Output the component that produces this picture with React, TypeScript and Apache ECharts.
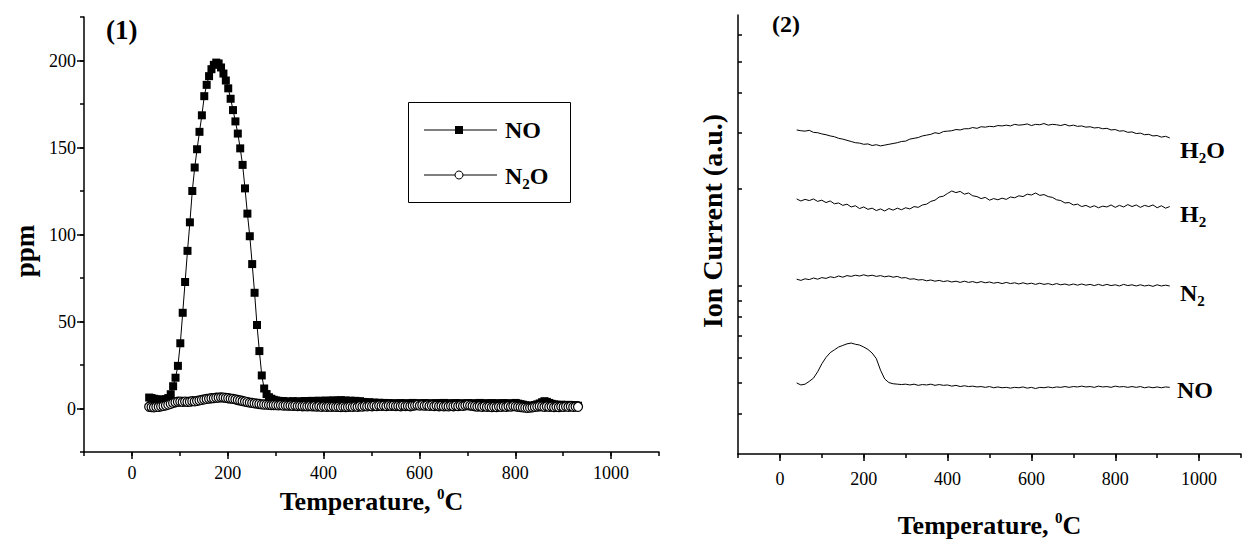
import React, { useEffect, useRef } from 'react';
import * as echarts from 'echarts';

const SERIF = "Liberation Serif";

// ---------- Panel (1): TPD in ppm ----------
const LEFT_TEMP = [
  36, 41, 46, 51, 56, 61, 66, 71, 76, 81,
  86, 91, 96, 101, 106, 111, 116, 121, 126, 131,
  136, 141, 146, 151, 156, 161, 166, 171, 176, 181,
  186, 191, 196, 201, 206, 211, 216, 221, 226, 231,
  236, 241, 246, 251, 256, 261, 266, 271, 276, 281,
  286, 291, 296, 301, 306, 311, 316, 321, 326, 331,
  336, 341, 346, 351, 356, 361, 366, 371, 376, 381,
  386, 391, 396, 401, 406, 411, 416, 421, 426, 431,
  436, 441, 446, 451, 456, 461, 466, 471, 476, 481,
  486, 491, 496, 501, 506, 511, 516, 521, 526, 531,
  536, 541, 546, 551, 556, 561, 566, 571, 576, 581,
  586, 591, 596, 601, 606, 611, 616, 621, 626, 631,
  636, 641, 646, 651, 656, 661, 666, 671, 676, 681,
  686, 691, 696, 701, 706, 711, 716, 721, 726, 731,
  736, 741, 746, 751, 756, 761, 766, 771, 776, 781,
  786, 791, 796, 801, 806, 811, 816, 821, 826, 831,
  836, 841, 846, 851, 856, 861, 866, 871, 876, 881,
  886, 891, 896, 901, 906, 911, 916, 921, 926, 931,
];

const LEFT_NO = [
  6.3, 6.0, 5.6, 5.3, 5.1, 5.0, 5.1, 5.4, 6.0, 8.2,
  12.8, 17.7, 24.5, 37.5, 55.0, 72.7, 90.6, 107, 125, 138.5,
  149, 159, 168.5, 179.5, 186, 191, 195, 197.5, 198.8, 198.3,
  196, 192.5, 188.5, 184, 178, 171.5, 165, 158, 149.5, 140,
  126.5, 112, 99, 83, 66.5, 48, 33, 19, 11.5, 8.3,
  6.5, 5.6, 5.0, 4.6, 4.4, 4.1, 4.3, 3.9, 4.0, 3.8,
  4.2, 3.9, 4.1, 3.7, 4.0, 4.3, 3.9, 4.1, 4.4, 4.0,
  4.2, 4.5, 4.1, 4.3, 4.6, 4.2, 4.4, 4.7, 4.3, 4.5,
  4.8, 4.4, 4.6, 4.3, 4.5, 4.2, 4.4, 4.0, 4.2, 3.8,
  3.6, 3.4, 3.6, 3.2, 3.4, 3.1, 3.3, 3.0, 3.2, 2.9,
  3.1, 2.8, 3.0, 2.7, 2.9, 3.1, 2.8, 3.0, 2.7, 2.9,
  3.2, 2.8, 3.0, 2.7, 2.9, 3.1, 2.8, 3.0, 2.6, 2.9,
  3.1, 2.7, 2.9, 3.2, 2.8, 3.0, 2.7, 2.9, 3.1, 2.8,
  3.0, 2.6, 2.9, 3.1, 2.8, 3.0, 2.7, 2.9, 3.2, 2.8,
  3.0, 2.7, 2.9, 3.1, 2.8, 3.0, 2.7, 2.9, 3.1, 2.8,
  3.0, 2.6, 2.9, 3.2, 2.8, 2.5, 2.2, 1.9, 1.6, 1.4,
  1.7, 2.0, 2.4, 2.9, 3.6, 4.2, 3.8, 3.2, 2.7, 2.4,
  2.1, 1.9, 2.2, 2.0, 1.8, 2.1, 1.9, 1.7, 1.9, 1.6,
];

const LEFT_N2O = [
  1.0, 0.8, 0.7, 0.9, 1.0, 1.2, 1.5, 1.8, 2.2, 2.7,
  3.2, 3.6, 3.9, 4.0, 3.8, 4.0, 3.8, 3.9, 4.2, 4.1,
  4.4, 4.7, 5.0, 5.2, 5.5, 5.7, 5.9, 6.0, 6.2, 6.3,
  6.4, 6.3, 6.1, 5.9, 5.7, 5.5, 5.2, 4.9, 4.6, 4.3,
  4.0, 3.7, 3.4, 3.2, 3.0, 2.8, 2.6, 2.4, 2.3, 2.2,
  2.1, 2.0, 2.0, 1.9, 1.8, 1.9, 1.7, 1.8, 1.6, 1.7,
  1.5, 1.6, 1.4, 1.5, 1.3, 1.4, 1.2, 1.4, 1.2, 1.3,
  1.1, 1.3, 1.0, 1.2, 1.0, 1.1, 0.9, 1.1, 0.9, 1.0,
  0.8, 1.0, 0.8, 0.9, 1.1, 0.9, 1.2, 1.0, 1.3, 1.1,
  1.4, 1.2, 1.5, 1.3, 1.6, 1.4, 1.7, 1.5, 1.6, 1.4,
  1.7, 1.5, 1.6, 1.4, 1.5, 1.3, 1.6, 1.4, 1.5, 1.3,
  1.6, 1.8, 2.0, 1.7, 1.9, 1.6, 1.8, 1.5, 1.7, 1.4,
  1.6, 1.3, 1.5, 1.2, 1.4, 1.2, 1.5, 1.3, 1.6, 1.4,
  1.7, 1.5, 1.8, 2.0, 1.7, 1.5, 1.3, 1.1, 1.3, 1.0,
  1.2, 0.9, 1.1, 0.8, 1.0, 0.8, 1.1, 0.9, 1.2, 1.0,
  1.3, 1.1, 1.4, 1.2, 1.0, 0.8, 0.6, 0.5, 0.4, 0.5,
  0.7, 0.9, 1.1, 1.3, 1.2, 1.0, 1.2, 0.9, 1.1, 0.8,
  1.0, 0.8, 1.1, 0.9, 1.2, 1.0, 1.2, 0.9, 1.1, 1.0,
];

// ---------- Panel (2): MS ion current (a.u.) ----------
const RIGHT_TEMP = [
  40, 50, 60, 70, 80, 90, 100, 110, 120, 130,
  140, 150, 160, 170, 180, 190, 200, 210, 220, 230,
  240, 250, 260, 270, 280, 290, 300, 310, 320, 330,
  340, 350, 360, 370, 380, 390, 400, 410, 420, 430,
  440, 450, 460, 470, 480, 490, 500, 510, 520, 530,
  540, 550, 560, 570, 580, 590, 600, 610, 620, 630,
  640, 650, 660, 670, 680, 690, 700, 710, 720, 730,
  740, 750, 760, 770, 780, 790, 800, 810, 820, 830,
  840, 850, 860, 870, 880, 890, 900, 910, 920, 930,
];

const MS_H2O = [
  81.2, 81.0, 80.9, 81.1, 80.6, 80.5, 80.2, 80.0, 79.7, 79.5,
  79.1, 78.9, 78.6, 78.3, 78.0, 77.9, 77.6, 77.7, 77.3, 77.5,
  77.2, 77.4, 77.6, 77.8, 78.0, 78.3, 78.4, 78.9, 79.1, 79.3,
  79.7, 79.9, 80.1, 80.5, 80.3, 80.8, 80.9, 81.0, 81.3, 81.2,
  81.5, 81.5, 81.8, 81.6, 82.0, 81.9, 82.1, 82.0, 82.3, 82.2,
  82.4, 82.2, 82.6, 82.4, 82.5, 82.7, 82.3, 82.6, 82.5, 82.8,
  82.4, 82.6, 82.5, 82.3, 82.6, 82.2, 82.4, 82.1, 82.2, 81.9,
  82.0, 81.7, 81.8, 81.5, 81.6, 81.2, 81.3, 80.9, 81.0, 80.6,
  80.7, 80.3, 80.4, 80.0, 80.1, 79.7, 79.8, 79.4, 79.6, 79.2,
];

const MS_H2 = [
  63.9, 63.4, 63.8, 63.5, 63.9, 63.3, 63.6, 63.0, 63.4, 62.7,
  62.9, 62.3, 62.6, 61.9, 62.2, 61.5, 61.9, 61.3, 61.6, 61.0,
  61.4, 60.9, 61.5, 61.1, 61.6, 61.2, 61.7, 61.4, 62.0, 61.8,
  62.4, 62.6, 63.3, 63.6, 64.4, 64.6, 65.3, 65.9, 65.5, 65.8,
  65.1, 65.4, 64.7, 64.5, 64.0, 64.3, 63.6, 64.0, 63.7, 64.1,
  63.8, 64.4, 64.2, 64.7, 64.5, 65.1, 64.9, 65.4, 64.8, 65.0,
  64.5, 64.3, 63.7, 63.5, 62.9, 63.0, 62.4, 62.6, 62.0, 62.3,
  61.8, 62.2, 61.7, 62.1, 61.9, 62.4, 61.8, 62.3, 61.9, 62.5,
  62.0, 62.4, 61.8, 62.3, 62.0, 62.4, 61.7, 62.2, 61.6, 62.0,
];

const MS_N2 = [
  43.8, 43.5, 43.9, 43.7, 44.1, 43.8, 44.2, 44.0, 44.4, 44.2,
  44.6, 44.3, 44.7, 44.5, 44.8, 44.6, 44.9, 44.6, 44.8, 44.5,
  44.7, 44.4, 44.6, 44.3, 44.5, 44.1, 44.2, 43.8, 43.9, 43.6,
  43.7, 43.4, 43.6, 43.3, 43.5, 43.2, 43.4, 43.1, 43.3, 43.0,
  43.3, 43.0, 43.2, 42.9, 43.2, 42.9, 43.1, 42.8, 43.0, 42.7,
  43.0, 42.7, 42.9, 42.6, 42.9, 42.6, 42.8, 42.5, 42.8, 42.5,
  42.7, 42.4, 42.7, 42.4, 42.6, 42.3, 42.6, 42.3, 42.6, 42.3,
  42.5, 42.2, 42.5, 42.2, 42.5, 42.2, 42.4, 42.1, 42.5, 42.2,
  42.4, 42.1, 42.4, 42.1, 42.3, 42.0, 42.4, 42.1, 42.3, 42.1,
];

const MS_NO = [
  17.8, 17.3, 17.5, 18.2, 19.0, 20.6, 22.6, 24.2, 25.4, 26.1,
  26.8, 27.2, 27.6, 27.8, 27.5, 27.3, 26.8, 26.2, 25.3, 23.9,
  21.0, 18.8, 17.9, 17.6, 17.5, 17.4, 17.5, 17.3, 17.5, 17.2,
  17.4, 17.3, 17.5, 17.2, 17.4, 17.2, 17.3, 17.0, 17.2, 16.9,
  17.1, 16.9, 17.0, 16.8, 16.9, 16.7, 16.9, 16.6, 16.8, 16.6,
  16.7, 16.5, 16.7, 16.6, 16.8, 16.5, 16.7, 16.4, 16.7, 16.6,
  16.8, 16.6, 16.8, 16.7, 16.9, 16.7, 16.9, 16.8, 17.0, 16.8,
  16.9, 16.7, 17.0, 16.8, 16.9, 16.7, 17.0, 16.8, 16.9, 16.7,
  16.9, 16.7, 16.9, 16.6, 16.8, 16.6, 16.8, 16.6, 16.8, 16.7,
];

// Tick values
const X_MAJOR = [0, 200, 400, 600, 800, 1000];
const PPM_MAJOR = [0, 50, 100, 150, 200];
const AU_TICKS = [10, 17.9, 24.2, 29.6, 34.3, 38.3, 42.1, 66.4, 80.6, 90.4, 98.3, 105];

const pair = (xs: number[], ys: number[]) => xs.map((x, i) => [x, ys[i]]);

const AXIS_LINE = { show: true, onZero: false, lineStyle: { color: '#000', width: 1.5 } };
const NO_LINE = { show: false, onZero: false };
const TICK_STYLE = { color: '#000', width: 1.5 };
const LABEL = { color: '#000', fontFamily: SERIF, fontSize: 18, formatter: (v: number) => String(v) };

const tempName = '{a|Temperature, }{s|0}{a|C}';
const tempRich = {
  a: { fontFamily: SERIF, fontWeight: 'bold', fontSize: 26, lineHeight: 30, color: '#000' },
  s: { fontFamily: SERIF, fontWeight: 'bold', fontSize: 15, lineHeight: 15, verticalAlign: 'top', color: '#000' },
};
const subRich = {
  a: { fontFamily: SERIF, fontWeight: 'bold', fontSize: 24, lineHeight: 30, color: '#000' },
  s: { fontFamily: SERIF, fontWeight: 'bold', fontSize: 15, lineHeight: 15, verticalAlign: 'bottom', color: '#000' },
};

export default function App() {
  const ref = useRef<HTMLDivElement>(null);
  useEffect(() => {
    const chart = echarts.init(ref.current!, null, { renderer: 'svg' });
    const option: any = {
      animation: false,
      backgroundColor: '#fff',
      textStyle: { fontFamily: SERIF },
      grid: [
        { left: 84, top: 17, width: 575, height: 435 },
        { left: 738, top: 15, width: 503, height: 440 },
      ],
      xAxis: [
        {
          type: 'value', gridIndex: 0, position: 'bottom', min: -100, max: 1100, interval: 100,
          axisLine: AXIS_LINE,
          axisTick: { show: true, customValues: X_MAJOR, length: 7, lineStyle: TICK_STYLE },
          axisLabel: { ...LABEL, customValues: X_MAJOR, margin: 12 },
          splitLine: { show: false },
          name: tempName, nameLocation: 'middle', nameGap: 32,
          nameTextStyle: { rich: tempRich },
        },
        {
          type: 'value', gridIndex: 0, position: 'bottom', min: -100, max: 1100, interval: 100,
          axisLine: NO_LINE,
          axisTick: { show: true, length: 4, lineStyle: TICK_STYLE },
          axisLabel: { show: false },
          splitLine: { show: false },
        },
        {
          type: 'value', gridIndex: 1, position: 'bottom', min: -100, max: 1100, interval: 100,
          axisLine: AXIS_LINE,
          axisTick: { show: true, customValues: X_MAJOR, length: 7, lineStyle: TICK_STYLE },
          axisLabel: { ...LABEL, customValues: X_MAJOR, margin: 16 },
          splitLine: { show: false },
          name: tempName, nameLocation: 'middle', nameGap: 56,
          nameTextStyle: { rich: tempRich },
        },
        {
          type: 'value', gridIndex: 1, position: 'bottom', min: -100, max: 1100, interval: 100,
          axisLine: NO_LINE,
          axisTick: { show: true, length: 4, lineStyle: TICK_STYLE },
          axisLabel: { show: false },
          splitLine: { show: false },
        },
      ],
      yAxis: [
        {
          type: 'value', gridIndex: 0, position: 'left', min: -25, max: 225, interval: 25,
          axisLine: AXIS_LINE,
          axisTick: { show: true, customValues: PPM_MAJOR, length: 7, lineStyle: TICK_STYLE },
          axisLabel: { ...LABEL, customValues: PPM_MAJOR, margin: 8 },
          splitLine: { show: false },
        },
        {
          type: 'value', gridIndex: 0, position: 'left', min: -25, max: 225, interval: 25,
          axisLine: NO_LINE,
          axisTick: { show: true, length: 4, lineStyle: TICK_STYLE },
          axisLabel: { show: false },
          splitLine: { show: false },
        },
        {
          type: 'value', gridIndex: 1, position: 'left', min: 0, max: 110,
          axisLine: AXIS_LINE,
          axisTick: { show: true, inside: true, customValues: AU_TICKS, length: 4, lineStyle: TICK_STYLE },
          axisLabel: { show: false },
          splitLine: { show: false },
        },
      ],
      series: [
        {
          name: 'NO', type: 'line', xAxisIndex: 0, yAxisIndex: 0, data: pair(LEFT_TEMP, LEFT_NO),
          symbol: 'rect', symbolSize: 8, itemStyle: { color: '#000' },
          lineStyle: { color: '#000', width: 1 }, z: 2,
        },
        {
          name: 'N2O', type: 'line', xAxisIndex: 0, yAxisIndex: 0, data: pair(LEFT_TEMP, LEFT_N2O),
          symbol: 'circle', symbolSize: 9,
          itemStyle: { color: '#fff', borderColor: '#000', borderWidth: 1.2 },
          lineStyle: { color: '#000', width: 1 }, z: 3,
        },
        ...[MS_H2O, MS_H2, MS_N2, MS_NO].map((d) => ({
          type: 'line', xAxisIndex: 2, yAxisIndex: 2, data: pair(RIGHT_TEMP, d),
          symbol: 'none', lineStyle: { color: '#000', width: 1 },
        })),
      ],
      graphic: [
        { type: 'text', x: 106, y: 30, style: { text: '(1)', font: `bold 27px ${SERIF}`, fill: '#000', verticalAlign: 'middle' } },
        { type: 'text', x: 772, y: 24, style: { text: '(2)', font: `bold 24px ${SERIF}`, fill: '#000', verticalAlign: 'middle' } },
        // rotated axis titles
        { type: 'text', x: 25, y: 251, rotation: Math.PI / 2, style: { text: 'ppm', font: `bold 27px ${SERIF}`, fill: '#000', align: 'center', verticalAlign: 'middle' } },
        { type: 'text', x: 712, y: 221, rotation: Math.PI / 2, style: { text: 'Ion Current (a.u.)', font: `bold 28px ${SERIF}`, fill: '#000', align: 'center', verticalAlign: 'middle' } },
        // legend box
        { type: 'rect', shape: { x: 408.5, y: 102.5, width: 162, height: 100 }, style: { fill: 'none', stroke: '#000', lineWidth: 1 } },
        { type: 'line', shape: { x1: 424, y1: 130, x2: 497, y2: 130 }, style: { stroke: '#000', lineWidth: 1 } },
        { type: 'rect', shape: { x: 455, y: 126, width: 8, height: 8 }, style: { fill: '#000' } },
        { type: 'text', x: 505, y: 130, style: { text: 'NO', font: `bold 24px ${SERIF}`, fill: '#000', verticalAlign: 'middle' } },
        { type: 'line', shape: { x1: 424, y1: 175, x2: 497, y2: 175 }, style: { stroke: '#000', lineWidth: 1 } },
        { type: 'circle', shape: { cx: 459, cy: 175, r: 4 }, style: { fill: '#fff', stroke: '#000', lineWidth: 1 } },
        { type: 'text', x: 505, y: 176, style: { text: '{a|N}{s|2}{a|O}', rich: subRich, fill: '#000', verticalAlign: 'middle' } },
        // right panel trace labels
        { type: 'text', x: 1180, y: 150, style: { text: '{a|H}{s|2}{a|O}', rich: subRich, fill: '#000', verticalAlign: 'middle' } },
        { type: 'text', x: 1180, y: 214, style: { text: '{a|H}{s|2}', rich: subRich, fill: '#000', verticalAlign: 'middle' } },
        { type: 'text', x: 1180, y: 293, style: { text: '{a|N}{s|2}', rich: subRich, fill: '#000', verticalAlign: 'middle' } },
        { type: 'text', x: 1177, y: 390, style: { text: 'NO', font: `bold 24px ${SERIF}`, fill: '#000', verticalAlign: 'middle' } },
      ],
    };
    chart.setOption(option);
    return () => chart.dispose();
  }, []);
  return (
    <div
      ref={ref}
      style={{ position: 'fixed', left: 0, top: 0, width: 1243, height: 543, background: '#fff' }}
    />
  );
}
